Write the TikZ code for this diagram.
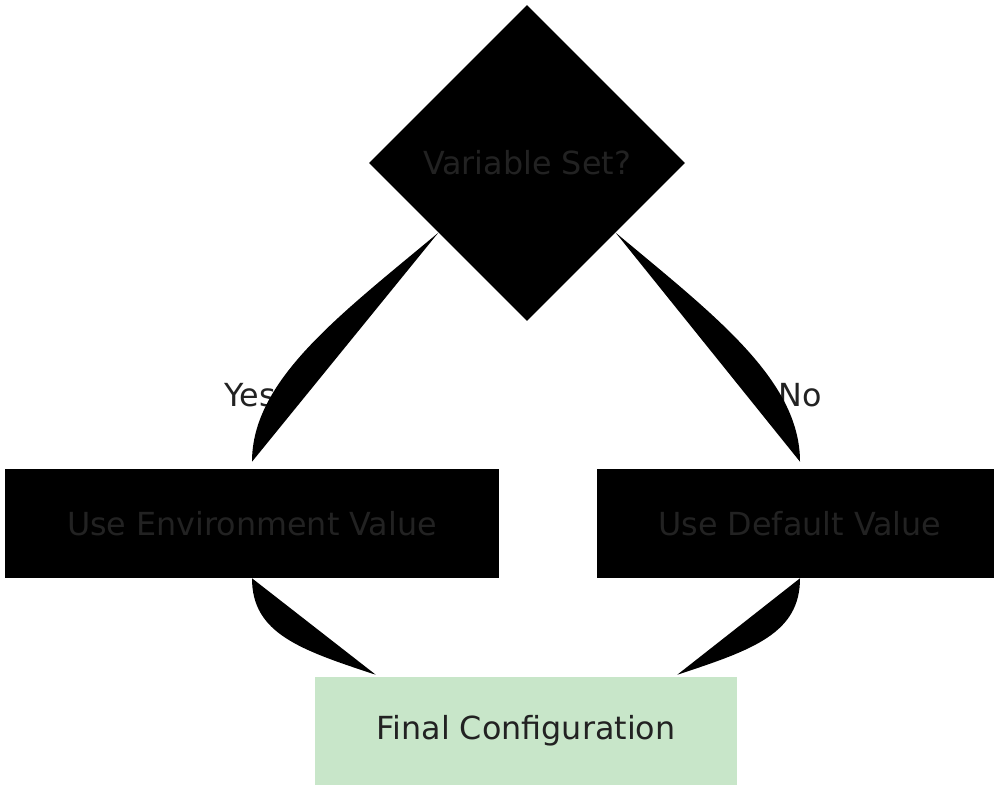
\documentclass[tikz,border=0pt]{standalone}
\usepackage{fontspec}
\setmainfont{DejaVu Sans}
\usetikzlibrary{calc,shapes.geometric}
\definecolor{txtgray}{HTML}{222222}
\definecolor{finalgreen}{HTML}{C8E6C9}
\tikzset{
  lbl/.style={text=txtgray,font=\fontsize{22.6}{27}\selectfont,inner sep=0},
  blackbox/.style={lbl,rectangle,fill=black,minimum height=109*0.025cm},
  decision/.style={lbl,diamond,fill=black,minimum width=316*0.025cm,minimum height=316*0.025cm},
  finalbox/.style={lbl,rectangle,fill=finalgreen,minimum width=422*0.025cm,minimum height=108*0.025cm}
}
\begin{document}
\begin{tikzpicture}[x=0.025cm,y=-0.025cm]
            \useasboundingbox (0,0) rectangle (994,785);
            \node[decision] (varset) at (527,163){Variable Set?};
            \node[blackbox,minimum width=494*0.025cm] (envval) at (252,523.5){Use Environment Value};
            \node[blackbox,minimum width=406*0.025cm] (defval) at (800,523.5){Use Default Value};
            \node[finalbox] (final) at (526,731){Final Configuration};

            \node[lbl] (yes) at (250,395){Yes};
            \node[lbl] (no) at (800,395){No};

            \fill ($(varset.west)!0.44!(varset.south)$) .. controls +(-98,82) and +(0,-82) .. ($(envval.north)+(0,-7)$) -- cycle;
            \fill ($(varset.east)!0.44!(varset.south)$) .. controls +(98,82) and +(0,-82) .. ($(defval.north)+(0,-7)$) -- cycle;
            \fill (envval.south) .. controls +(0,55) and +(-76,-25) .. ($(final.north west)+(61,-2)$) -- cycle;
            \fill (defval.south) .. controls +(0,55) and +(76,-25) .. ($(final.north east)+(-60,-2)$) -- cycle;
\end{tikzpicture}
\end{document}
